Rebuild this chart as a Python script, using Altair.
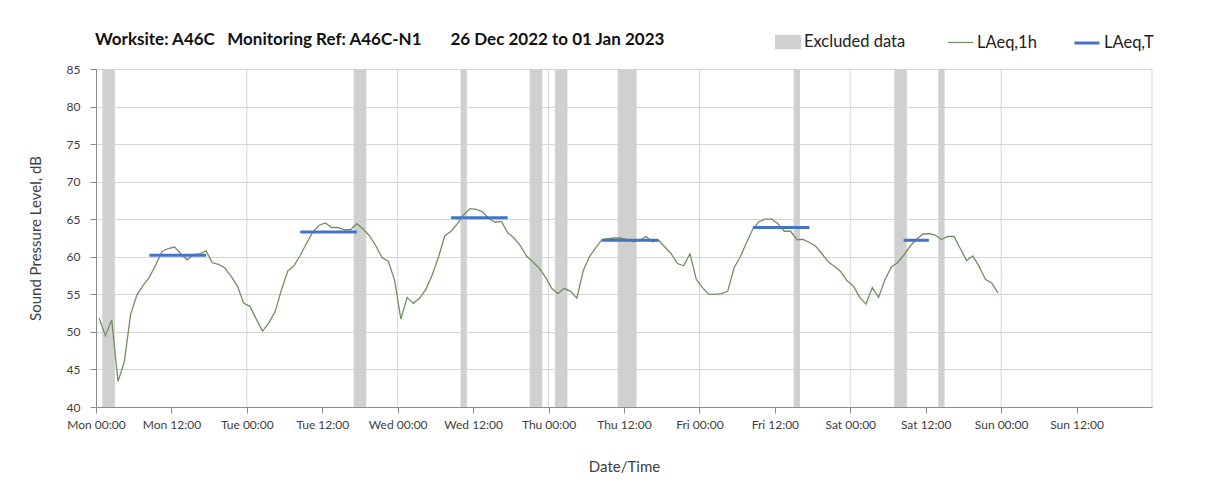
import altair as alt
import pandas as pd
import json

# ---------------- data ----------------
# hourly LAeq,1h values (hour k plotted at mid-hour k+0.5 from Mon 00:00)
laeq_1h = [
    51.8, 49.5, 51.6, 43.4, 46.0, 52.3, 54.9, 56.2, 57.3, 58.9, 60.7, 61.1,
    61.3, 60.4, 59.6, 60.3, 60.4, 60.8, 59.2, 59.0, 58.5, 57.4, 56.1, 53.8,
    53.4, 51.7, 50.1, 51.2, 52.7, 55.6, 58.1, 58.8, 60.2, 61.8, 63.3, 64.2,
    64.5, 63.9, 63.9, 63.6, 63.6, 64.4, 63.7, 62.8, 61.5, 59.9, 59.4, 56.9,
    51.7, 54.6, 53.8, 54.5, 55.7, 57.6, 60.0, 62.8, 63.4, 64.4, 65.6, 66.4,
    66.3, 66.0, 65.1, 64.6, 64.7, 63.2, 62.5, 61.5, 60.1, 59.3, 58.5, 57.3,
    55.8, 55.1, 55.8, 55.4, 54.5, 58.1, 60.0, 61.2, 62.3, 62.4, 62.5, 62.5,
    62.3, 62.0, 62.2, 62.7, 62.0, 62.2, 61.3, 60.4, 59.1, 58.8, 60.4, 57.0,
    55.9, 55.0, 55.0, 55.1, 55.4, 58.5, 60.0, 61.9, 63.7, 64.7, 65.0, 65.0,
    64.4, 63.4, 63.4, 62.3, 62.3, 61.9, 61.4, 60.4, 59.3, 58.7, 58.0, 56.8,
    56.1, 54.6, 53.7, 55.9, 54.6, 56.9, 58.6, 59.2, 60.2, 61.4, 62.3, 63.0,
    63.1, 62.9, 62.3, 62.7, 62.7, 61.1, 59.5, 60.1, 58.7, 57.0, 56.5, 55.2,
]
hour_mid = [k + 0.5 for k in range(len(laeq_1h))]

# excluded data periods (hours from Mon 00:00)
excl_start = [1, 41, 58, 69, 73, 83, 111, 127, 134]
excl_end = [3, 43, 59, 71, 75, 86, 112, 129, 135]

# LAeq,T daytime periods
t_start = [8.5, 32.5, 56.5, 80.5, 104.5, 128.5]
t_end = [17.5, 41.5, 65.5, 89.5, 113.5, 132.5]
t_value = [60.2, 63.3, 65.2, 62.2, 63.9, 62.2]

# axis ticks
x_ticks = [0, 12, 24, 36, 48, 60, 72, 84, 96, 108, 120, 132, 144, 156]
tick_labels = ["Mon 00:00", "Mon 12:00", "Tue 00:00", "Tue 12:00", "Wed 00:00",
               "Wed 12:00", "Thu 00:00", "Thu 12:00", "Fri 00:00", "Fri 12:00",
               "Sat 00:00", "Sat 12:00", "Sun 00:00", "Sun 12:00"]
day_bounds = [24, 48, 72, 96, 120, 144, 168]
y_ticks = [40, 45, 50, 55, 60, 65, 70, 75, 80, 85]

title_text = ("Worksite: A46C\u00a0\u00a0\u00a0Monitoring Ref: A46C-N1"
              "\u00a0\u00a0\u00a0\u00a0\u00a0\u00a0\u00a026 Dec 2022 to 01 Jan 2023")

# ---------------- frames ----------------
df_line = pd.DataFrame({"h": hour_mid, "v": laeq_1h, "s": "LAeq,1h"})
df_ex = pd.DataFrame({"a": excl_start, "b": excl_end, "s": "Excluded data"})
df_t = pd.DataFrame({"a": t_start, "b": t_end, "v": t_value, "s": "LAeq,T"})
df_grid = pd.DataFrame({"h": day_bounds})

FONT = "Lato"
GRID = "#d6d6d6"
AXIS = "#8c8c8c"
TXT = "#404040"
GREEN = "#71905f"
BLUE = "#4472c4"
BAND = "#d0d0d0"

label_expr = json.dumps(tick_labels) + "[round(datum.value/12)]"

xscale = alt.Scale(domain=[0, 168], nice=False, zero=False)
yscale = alt.Scale(domain=[40, 85], nice=False, zero=False)

x_axis = alt.Axis(values=x_ticks, labelExpr=label_expr, grid=False, labelOverlap=False,
                  labelFlush=False,
                  domainColor=AXIS, tickColor=AXIS, tickSize=6, labelPadding=6,
                  labelFont=FONT, labelFontSize=12, labelColor=TXT,
                  title="Date/Time", titleFont=FONT, titleFontSize=15,
                  titleFontWeight="normal", titleColor=TXT, titlePadding=29)
y_axis = alt.Axis(values=y_ticks, grid=True, gridColor=GRID, domainColor=AXIS,
                  labelOverlap=False, labelFlush=False,
                  tickColor=AXIS, tickSize=6, labelPadding=10,
                  labelFont=FONT, labelFontSize=12, labelColor=TXT,
                  title="Sound Pressure Level, dB", titleFont=FONT, titleFontSize=15,
                  titleFontWeight="normal", titleColor=TXT, titlePadding=23)

legend_common = dict(orient="none", title=None, padding=0, labelFont=FONT,
                     labelFontSize=16.5, labelColor="#222222", labelOffset=3)

vgrid = alt.Chart(df_grid).mark_rule(color=GRID, strokeWidth=1).encode(
    x=alt.X("h:Q", scale=xscale, axis=x_axis)
)

bands = alt.Chart(df_ex).mark_rect(opacity=1).encode(
    x=alt.X("a:Q", scale=xscale, axis=x_axis),
    x2="b:Q",
    y=alt.YDatum(40, scale=yscale, axis=y_axis),
    y2=alt.Y2Datum(85),
    color=alt.Color("s:N", scale=alt.Scale(domain=["Excluded data"], range=[BAND]),
                    legend=alt.Legend(symbolType="M-1,-0.55H1V0.55H-1Z", symbolSize=676,
                                      symbolStrokeWidth=0, legendX=679, legendY=-40,
                                      **legend_common)),
)

line = alt.Chart(df_line).mark_line(strokeWidth=1.3).encode(
    x=alt.X("h:Q", scale=xscale, axis=x_axis),
    y=alt.Y("v:Q", scale=yscale, axis=y_axis),
    color=alt.Color("s:N", scale=alt.Scale(domain=["LAeq,1h"], range=[GREEN]),
                    legend=alt.Legend(symbolType="stroke", symbolSize=625,
                                      symbolStrokeWidth=1.2, legendX=851, legendY=-40,
                                      **legend_common)),
)

tline = alt.Chart(df_t).mark_rule(strokeWidth=3, strokeCap="butt").encode(
    x=alt.X("a:Q", scale=xscale, axis=x_axis),
    x2="b:Q",
    y=alt.Y("v:Q", scale=yscale, axis=y_axis),
    color=alt.Color("s:N", scale=alt.Scale(domain=["LAeq,T"], range=[BLUE]),
                    legend=alt.Legend(symbolType="stroke", symbolSize=625,
                                      symbolStrokeWidth=3, legendX=977, legendY=-40,
                                      **legend_common)),
)

chart = (
    alt.layer(vgrid, bands, line, tline)
    .resolve_scale(color="independent")
    .properties(
        width=1056,
        height=338,
        autosize=alt.AutoSizeParams(type="none"),
        padding={"left": 88, "top": 61, "right": 40, "bottom": 80},
        title=alt.TitleParams(title_text, anchor="start", frame="group", font=FONT,
                              fontSize=17, fontWeight="bold", color="#111111",
                              offset=20, dx=-1, dy=40),
    )
    .configure_view(strokeWidth=0)
)

chart.save("out.html", embed_options={"renderer": "svg", "actions": False})
